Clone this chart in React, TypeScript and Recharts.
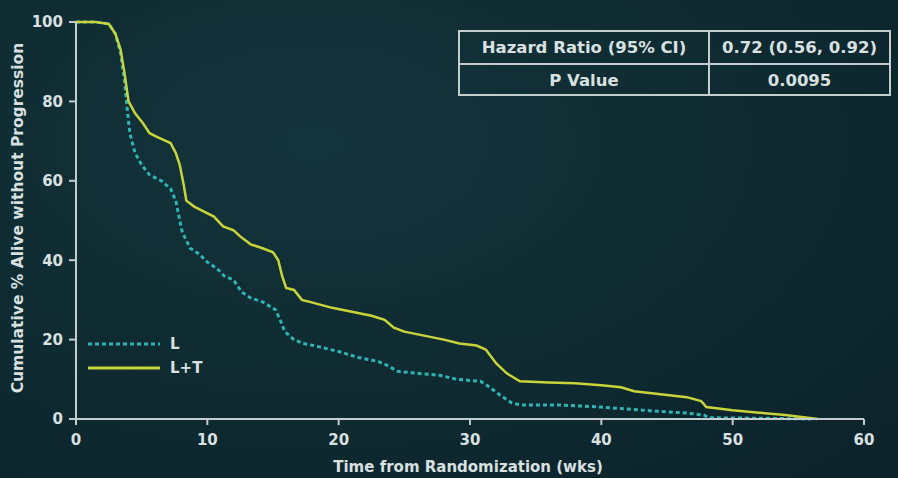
import { LineChart, Line, XAxis, YAxis } from 'recharts';

// Kaplan-Meier curves (weeks, % alive without progression)
const weeksLT = [0, 1.5, 2.5, 3.0, 3.4, 3.7, 4.0, 4.5, 5.1, 5.6, 6.2, 7.2, 7.6, 7.9, 8.2, 8.4, 9.0, 9.6, 10.5, 11.2, 12.0, 12.5, 13.3, 14.2, 15.0, 15.4, 15.7, 16.0, 16.6, 17.2, 17.8, 19.5, 21.0, 22.5, 23.5, 24.2, 25.0, 26.5, 28.0, 29.2, 30.5, 31.2, 32.0, 32.8, 33.8, 36.0, 38.0, 40.0, 41.5, 42.5, 46.5, 47.6, 48.0, 50.0, 52.0, 54.0, 56.5];
const valuesLT = [100, 100, 99.5, 97, 93, 87, 80, 77, 74.5, 72, 71, 69.5, 67, 64, 59, 55, 53.5, 52.5, 51, 48.5, 47.5, 46, 44, 43, 42, 40, 36, 33, 32.5, 30, 29.5, 28, 27, 26, 25, 23, 22, 21, 20, 19, 18.5, 17.5, 14, 11.5, 9.5, 9.2, 9, 8.5, 8, 7, 5.5, 4.5, 3, 2.2, 1.6, 1, 0];

const weeksL = [0, 1.5, 2.5, 3.0, 3.4, 3.7, 3.9, 4.1, 4.5, 5.0, 5.6, 6.5, 7.2, 7.6, 7.9, 8.1, 8.7, 9.4, 10.0, 10.7, 11.3, 12.0, 12.6, 13.3, 14.2, 15.2, 15.6, 15.9, 16.6, 17.3, 18.1, 20.0, 21.5, 23.0, 23.7, 24.5, 26.0, 27.7, 29.0, 30.8, 31.5, 32.3, 33.2, 34.0, 37.0, 40.0, 42.0, 44.0, 46.5, 47.8, 48.2, 52.0, 56.0];
const valuesL = [100, 100, 99.5, 97, 92, 85, 78, 72, 67, 64, 61.5, 60, 58, 55, 50, 47, 43, 41.5, 39.5, 38, 36, 35, 32, 30.5, 29.5, 27.5, 24.5, 22, 20, 19, 18.5, 17, 15.5, 14.5, 13.5, 12, 11.5, 11, 10, 9.5, 8, 6, 4, 3.5, 3.5, 3, 2.5, 2, 1.5, 1, 0.3, 0.2, 0];

const xTicks = [0, 10, 20, 30, 40, 50, 60];
const yTicks = [0, 20, 40, 60, 80, 100];

const tableRows = [
  ['Hazard Ratio (95% CI)', '0.72 (0.56, 0.92)'],
  ['P Value', '0.0095'],
];

const seriesL = weeksL.map((w, i) => ({ week: w, value: valuesL[i] }));
const seriesLT = weeksLT.map((w, i) => ({ week: w, value: valuesLT[i] }));

const FONT = '"DejaVu Sans", Arial, sans-serif';
const TEXT = '#d9e0e0';
const AXIS = '#c3cdcd';
const CYAN = '#2fb4b4';
const YELLOW = '#c9d43a';

function YLabel() {
  return (
    <text
      x={18}
      y={218}
      transform="rotate(-90, 18, 218)"
      textAnchor="middle"
      dominantBaseline="middle"
      fill={TEXT}
      fontSize={15.5}
      fontWeight="bold"
      fontFamily={FONT}
    >
      Cumulative % Alive without Progression
    </text>
  );
}

function XLabel() {
  return (
    <text
      x={468}
      y={467}
      textAnchor="middle"
      dominantBaseline="middle"
      fill={TEXT}
      fontSize={15}
      fontWeight="bold"
      fontFamily={FONT}
    >
      Time from Randomization (wks)
    </text>
  );
}

function LegendBox() {
  const items = [
    { name: 'L', color: CYAN, dash: '4 3' },
    { name: 'L+T', color: YELLOW, dash: undefined },
  ];
  return (
    <svg width={130} height={50} style={{ position: 'absolute', left: 86, top: 334 }}>
      {items.map((it, i) => (
        <g key={it.name}>
          <line x1={2} x2={74} y1={10 + i * 24} y2={10 + i * 24} stroke={it.color} strokeWidth={3} strokeDasharray={it.dash} />
          <text x={84} y={10 + i * 24} dominantBaseline="middle" fill={TEXT} fontSize={15} fontWeight="bold" fontFamily={FONT}>
            {it.name}
          </text>
        </g>
      ))}
    </svg>
  );
}

export default function App() {
  return (
    <div
      style={{
        position: 'relative',
        width: 898,
        height: 478,
        background: 'radial-gradient(ellipse at 35% 30%, #14343b 0%, #0f2a31 55%, #0c222a 100%)',
        overflow: 'hidden',
      }}
    >
      <style>{`body { margin: 0; }`}</style>
      <LineChart width={898} height={478} margin={{ top: 22, right: 34, left: 0, bottom: 0 }}>
        <XAxis
          dataKey="week"
          type="number"
          domain={[0, 60]}
          ticks={xTicks}
          height={59}
          stroke={AXIS}
          strokeWidth={2}
          tickSize={6}
          tickMargin={9}
          tick={{ fill: TEXT, fontSize: 15, fontWeight: 'bold', fontFamily: FONT }}
          label={<XLabel />}
          allowDuplicatedCategory={false}
        />
        <YAxis
          dataKey="value"
          type="number"
          domain={[0, 100]}
          ticks={yTicks}
          width={76}
          stroke={AXIS}
          strokeWidth={2}
          tickSize={7}
          tickMargin={6}
          tick={{ fill: TEXT, fontSize: 15, fontWeight: 'bold', fontFamily: FONT }}
          label={<YLabel />}
        />
        <Line
          data={seriesL}
          dataKey="value"
          name="L"
          type="linear"
          stroke={CYAN}
          strokeWidth={3}
          strokeDasharray="4 3"
          dot={false}
          isAnimationActive={false}
        />
        <Line
          data={seriesLT}
          dataKey="value"
          name="L+T"
          type="linear"
          stroke={YELLOW}
          strokeWidth={2.5}
          dot={false}
          isAnimationActive={false}
        />
      </LineChart>
      <LegendBox />
      <div
        style={{
          position: 'absolute',
          left: 458,
          top: 30,
          width: 433,
          height: 66,
          border: `2px solid ${AXIS}`,
          boxSizing: 'border-box',
          fontFamily: FONT,
          fontWeight: 'bold',
          fontSize: 16.5,
          color: TEXT,
        }}
      >
        {tableRows.map((row, i) => (
          <div
            key={row[0]}
            style={{
              display: 'flex',
              height: 31,
              borderTop: i > 0 ? `2px solid ${AXIS}` : undefined,
            }}
          >
            <div style={{ width: 248, borderRight: `2px solid ${AXIS}`, display: 'flex', alignItems: 'center', justifyContent: 'center' }}>
              {row[0]}
            </div>
            <div style={{ flex: 1, display: 'flex', alignItems: 'center', justifyContent: 'center' }}>{row[1]}</div>
          </div>
        ))}
      </div>
    </div>
  );
}
